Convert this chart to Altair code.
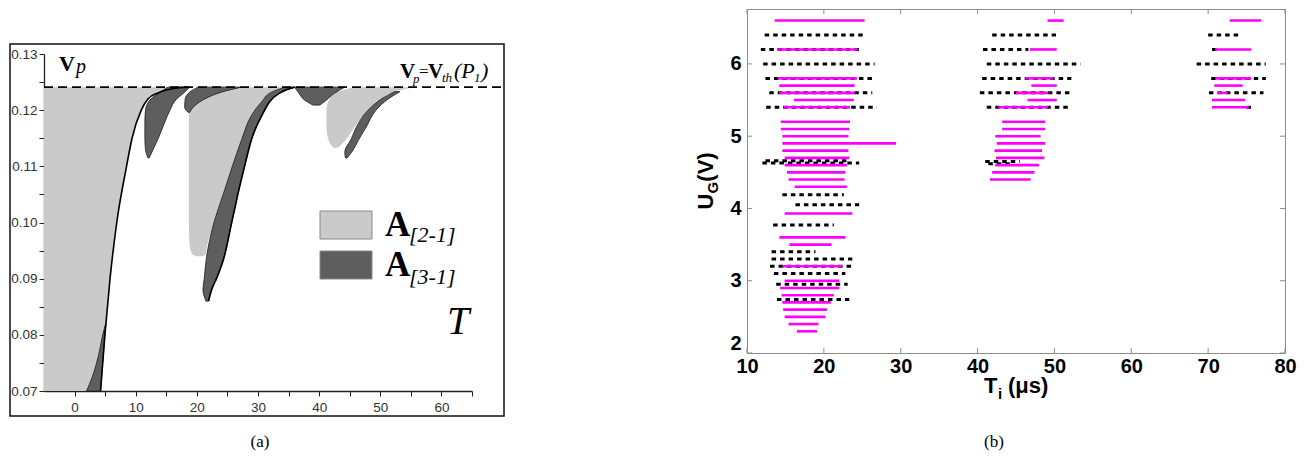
import altair as alt
import pandas as pd

# ======================= panel (a) data =======================
A21, A31 = "A[2-1]", "A[3-1]"
threshold_V = [0.1241]

xticks_a = [0, 5, 10, 15, 20, 25, 30, 35, 40, 45, 50, 55, 60, 65]
yticks_a = [0.07, 0.075, 0.08, 0.085, 0.09, 0.095, 0.10, 0.105, 0.11, 0.115, 0.12, 0.125, 0.13]

# boundary curve of the large left region
curve1_V = [0.07, 0.08, 0.09, 0.10, 0.11, 0.115, 0.12, 0.122, 0.1231, 0.1239, 0.1241]
curve1_T = [4.25, 4.96, 5.8, 6.9, 8.5, 9.4, 10.9, 12.0, 13.7, 16.4, 18.6]
region1_left = [-5, -5, -5, -5, -5, -5, -5, -5, -5, -5, -5]

light2_V = [0.0940, 0.0943, 0.096, 0.100, 0.105, 0.110, 0.115, 0.119, 0.1215, 0.1232, 0.1241]
light2_left = [19.9, 19.3, 18.8, 18.7, 18.7, 18.7, 18.7, 18.7, 19.0, 20.5, 22.9]
light2_right = [20.9, 21.4, 21.7, 22.8, 24.3, 25.8, 27.4, 28.9, 30.6, 32.2, 34.4]

light3_V = [0.1133, 0.1145, 0.117, 0.120, 0.122, 0.1233, 0.1241]
light3_left = [42.3, 41.6, 41.2, 41.2, 41.7, 43.1, 45.8]
light3_right = [43.1, 44.2, 45.8, 48.0, 50.2, 52.3, 55.6]

dark0_V = [0.07, 0.0725, 0.075, 0.0775, 0.080, 0.082]
dark0_left = [1.96, 2.9, 3.6, 4.15, 4.6, 5.08]
dark0_right = [4.25, 4.43, 4.6, 4.78, 4.96, 5.12]

dark1_V = [0.1115, 0.113, 0.115, 0.118, 0.120, 0.122, 0.123, 0.1241]
dark1_left = [12.0, 11.6, 11.5, 11.5, 11.6, 12.5, 13.7, 15.3]
dark1_right = [12.2, 12.85, 13.7, 14.8, 15.6, 16.7, 17.8, 18.8]

dark2_V = [0.1196, 0.1205, 0.122, 0.1232, 0.1241]
dark2_left = [18.6, 18.0, 18.1, 18.8, 20.2]
dark2_right = [18.8, 19.4, 21.3, 24.0, 27.3]

dark3_V = [0.086, 0.088, 0.090, 0.094, 0.100, 0.105, 0.110, 0.115, 0.119, 0.1215, 0.1232, 0.1241]
dark3_left = [21.5, 21.0, 21.2, 21.6, 22.8, 24.3, 25.8, 27.4, 28.9, 30.6, 32.2, 34.4]
dark3_right = [21.9, 22.4, 23.2, 24.5, 25.7, 26.7, 27.8, 29.0, 30.6, 31.9, 33.8, 36.0]

dark4_V = [0.1209, 0.1218, 0.1230, 0.1241]
dark4_left = [39.0, 37.6, 36.7, 36.0]
dark4_right = [40.1, 41.2, 42.5, 44.2]

dark5_V = [0.1115, 0.1125, 0.115, 0.117, 0.120, 0.122, 0.1233]
dark5_left = [44.3, 44.2, 45.3, 46.1, 48.0, 50.2, 52.3]
dark5_right = [44.6, 45.3, 46.6, 47.7, 49.3, 51.3, 53.2]

# ======================= panel (b) data =======================
xticks_b = [10, 20, 30, 40, 50, 60, 70, 80]
yticks_b = [2, 3, 4, 5, 6]

dash_U = [6.4, 6.2, 6.0, 5.8, 5.6, 5.4, 4.66, 4.63, 4.19, 4.05, 3.77, 3.4, 3.3, 3.2, 3.1, 2.95, 2.74,
          6.4, 6.2, 6.0, 5.8, 5.6, 5.4, 4.65, 4.62,
          6.4, 6.2, 6.0, 5.8, 5.6, 5.4]
dash_start = [12.3, 11.8, 12.1, 12.4, 12.9, 12.5, 12.4, 12.0, 14.6, 16.3, 13.4, 13.2, 13.2, 13.0, 13.5, 13.8, 13.9,
              41.9, 40.7, 41.2, 40.6, 40.3, 41.2, 41.0, 41.4,
              70.0, 70.5, 68.5, 70.4, 70.1, 75.0]
dash_end = [25.3, 25.0, 26.6, 26.7, 26.3, 26.9, 23.3, 24.6, 22.6, 24.6, 21.3, 18.9, 23.7, 23.7, 22.8, 23.1, 23.3,
            50.2, 46.6, 53.4, 52.2, 52.2, 52.0, 45.5, 44.5,
            74.1, 71.1, 77.5, 77.5, 77.2, 75.6]

mag_U = [6.6, 6.2, 5.8, 5.7, 5.6, 5.5, 5.4, 5.2, 5.1, 5.0, 4.9, 4.8, 4.7, 4.6, 4.5, 4.4, 4.3, 3.93, 3.6, 3.5,
         3.2, 3.0, 2.9, 2.8, 2.7, 2.6, 2.5, 2.4, 2.3,
         6.6, 6.2, 5.8, 5.7, 5.6, 5.5, 5.4, 5.2, 5.1, 5.0, 4.9, 4.8, 4.7, 4.6, 4.5, 4.4,
         6.6, 6.2, 5.8, 5.7, 5.6, 5.5, 5.4]
mag_start = [13.6, 13.9, 14.0, 14.2, 14.2, 16.1, 14.8, 14.4, 14.4, 14.6, 14.6, 14.6, 14.9, 14.9, 15.2, 15.4, 16.2, 14.9, 14.2, 15.5,
             14.6, 14.9, 14.3, 14.5, 14.6, 14.7, 14.9, 15.4, 16.5,
             49.1, 46.8, 46.2, 47.0, 45.0, 46.5, 42.7, 43.2, 43.2, 42.3, 42.5, 42.2, 42.4, 42.3, 41.9, 41.6,
             72.8, 70.9, 71.0, 70.8, 71.2, 70.5, 70.5]
mag_end = [25.3, 24.4, 24.3, 24.0, 24.0, 23.9, 23.4, 23.4, 23.3, 23.2, 29.4, 23.2, 23.3, 23.0, 22.8, 22.7, 23.0, 23.7, 22.8, 21.0,
           22.4, 22.0, 22.0, 21.3, 20.9, 20.4, 20.2, 19.3, 19.1,
           51.2, 50.3, 49.9, 50.3, 49.2, 50.3, 49.2, 48.8, 48.8, 48.2, 48.8, 48.4, 48.7, 48.0, 47.4, 46.9,
           76.9, 75.6, 75.6, 74.5, 72.5, 74.8, 75.3]

# ======================= helpers =======================
def shapes_df(items):
    rows = []
    for name, kind, vs, ls, rs in items:
        for v, l, r in zip(vs, ls, rs):
            rows.append({"shape": name, "kind": kind, "V": v, "left": l, "right": r})
    return pd.DataFrame(rows)


def txt(s, x, y, size, font="Liberation Serif", weight="normal", style="normal",
        align="left", baseline="alphabetic", angle=0, color="black"):
    return alt.Chart(pd.DataFrame({"s": [s]})).mark_text(
        align=align, baseline=baseline, font=font, fontSize=size,
        fontWeight=weight, fontStyle=style, angle=angle, color=color
    ).encode(x=alt.value(x), y=alt.value(y), text="s:N")


LIGHT = "#cacaca"
DARK = "#5e5e5e"

light_df = shapes_df([
    ("L1", A21, curve1_V, region1_left, curve1_T),
    ("L2", A21, light2_V, light2_left, light2_right),
    ("L3", A21, light3_V, light3_left, light3_right),
])
dark_df = shapes_df([
    ("D0", A31, dark0_V, dark0_left, dark0_right),
    ("D1", A31, dark1_V, dark1_left, dark1_right),
    ("D2", A31, dark2_V, dark2_left, dark2_right),
    ("D3", A31, dark3_V, dark3_left, dark3_right),
    ("D4", A31, dark4_V, dark4_left, dark4_right),
    ("D5", A31, dark5_V, dark5_left, dark5_right),
])
curves_df = pd.DataFrame(
    [{"curve": "c1", "T": t, "V": v} for t, v in zip(curve1_T, curve1_V)]
    + [{"curve": "c2", "T": t, "V": v} for t, v in zip(dark3_right, dark3_V)]
)

xscale_a = alt.Scale(domain=[-5, 65], nice=False, zero=False)
yscale_a = alt.Scale(domain=[0.07, 0.13], range=[382, 45], nice=False, zero=False)
axis_common_a = dict(grid=False, title=None, tickSize=5, tickColor="#222", tickWidth=1,
                     domainColor="#222", domainWidth=1.3, labelFont="Liberation Sans",
                     labelFontSize=13.5, labelColor="#333")
xaxis_a = alt.Axis(values=xticks_a, labelExpr="datum.value % 10 === 0 ? datum.label : ''",
                   labelPadding=4, labelFlush=False, **axis_common_a)
yaxis_a = alt.Axis(values=yticks_a, format=".2f",
                   labelExpr="abs(datum.value*100 - round(datum.value*100)) < 0.001 ? datum.label : ''",
                   labelPadding=2, **axis_common_a)

legend_a = alt.Legend(
    orient="none", legendX=281.5, legendY=195.5, title=None, padding=0,
    symbolType="M-1.3,-0.7H1.3V0.7H-1.3Z", symbolSize=1600,
    symbolStrokeColor="#8a8a8a", symbolStrokeWidth=1, symbolOpacity=1,
    labelExpr="'A'", labelFont="Liberation Serif", labelFontSize=35,
    labelFontWeight="bold", labelColor="black", labelOffset=18.5, rowPadding=1,
)
color_a = alt.Color("kind:N", scale=alt.Scale(domain=[A21, A31], range=[LIGHT, DARK]),
                    legend=legend_a)

light_layer = alt.Chart(light_df).mark_area(orient="horizontal", interpolate="monotone").encode(
    y=alt.Y("V:Q", scale=yscale_a, axis=yaxis_a),
    x=alt.X("left:Q", scale=xscale_a, axis=xaxis_a, stack=False),
    x2="right:Q",
    color=color_a,
    detail="shape:N",
)
dark_layer = alt.Chart(dark_df).mark_area(orient="horizontal", interpolate="monotone",
                                          stroke="#1a1a1a", strokeWidth=0.8).encode(
    y=alt.Y("V:Q", scale=yscale_a, axis=yaxis_a),
    x=alt.X("left:Q", scale=xscale_a, axis=xaxis_a, stack=False),
    x2="right:Q",
    color=color_a,
    detail="shape:N",
)
curve_layer = alt.Chart(curves_df).mark_line(color="black", strokeWidth=1.6, interpolate="monotone").encode(
    x=alt.X("T:Q", scale=xscale_a, axis=xaxis_a),
    y=alt.Y("V:Q", scale=yscale_a, axis=yaxis_a),
    detail="curve:N",
)
thr_layer = alt.Chart(pd.DataFrame({"V": threshold_V})).mark_rule(
    color="black", strokeWidth=1.6, strokeDash=[9, 5]).encode(
    y=alt.Y("V:Q", scale=yscale_a, axis=yaxis_a),
    x=alt.value(0), x2=alt.value(460),
)
frame_a = alt.Chart(pd.DataFrame({"a": [0]})).mark_rect(
    filled=False, stroke="#111", strokeWidth=1.5).encode(
    x=alt.value(-34), x2=alt.value(460), y=alt.value(35), y2=alt.value(407))

texts_a = [
    txt("V", 15, 62, 22, weight="bold"),
    txt("p", 32, 64, 20, style="italic"),
    txt("V", 356, 69, 21, weight="bold"),
    txt("p", 369, 74, 13, style="italic"),
    txt("=", 375, 68, 17),
    txt("V", 384, 69, 21, weight="bold"),
    txt("th", 398, 73, 13, style="italic"),
    txt("(P", 410, 69, 22, style="italic"),
    txt("1", 430, 73, 13, style="italic"),
    txt(")", 437, 69, 22, style="italic"),
    txt("T", 414, 325, 40, style="italic", align="center"),
    txt("[2-1]", 365, 233, 22, style="italic"),
    txt("[3-1]", 365, 275, 22, style="italic"),
    txt("(a)", 216, 438, 17, align="center"),
]

panel_a = alt.layer(light_layer, dark_layer, curve_layer, thr_layer, frame_a, *texts_a).properties(
    width=428, height=382, view=alt.ViewBackground(stroke="transparent"))

# ======================= panel (b) =======================
W_B, H_B = 538, 344
dash_df = pd.DataFrame({"U": dash_U, "start": dash_start, "end": dash_end})
mag_df = pd.DataFrame({"U": mag_U, "start": mag_start, "end": mag_end})
xt_df = pd.DataFrame({"t": xticks_b})
yt_df = pd.DataFrame({"u": yticks_b})

xscale_b = alt.Scale(domain=[10, 80], nice=False, zero=False)
yscale_b = alt.Scale(domain=[2, 6.76], nice=False, zero=False)
axis_common_b = dict(grid=False, title=None, domain=False, ticks=False, labelFont="Liberation Sans",
                     labelFontSize=20, labelFontWeight="bold", labelColor="black")
xaxis_b = alt.Axis(values=xticks_b, labelPadding=3, labelFlush=False, **axis_common_b)
yaxis_b = alt.Axis(values=yticks_b, labelPadding=6, labelFlush=5, **axis_common_b)

dash_layer = alt.Chart(dash_df).mark_rule(color="black", strokeWidth=3, strokeDash=[4.5, 4]).encode(
    x=alt.X("start:Q", scale=xscale_b, axis=xaxis_b), x2="end:Q",
    y=alt.Y("U:Q", scale=yscale_b, axis=yaxis_b))
mag_layer = alt.Chart(mag_df).mark_rule(color="#ff00ff", strokeWidth=2.6).encode(
    x=alt.X("start:Q", scale=xscale_b, axis=xaxis_b), x2="end:Q",
    y=alt.Y("U:Q", scale=yscale_b, axis=yaxis_b))

TICK_C = "#8c8c8c"
tick_bottom = alt.Chart(xt_df).mark_rule(color=TICK_C).encode(
    x=alt.X("t:Q", scale=xscale_b, axis=xaxis_b), y=alt.value(H_B), y2=alt.value(H_B - 5))
tick_top = alt.Chart(xt_df).mark_rule(color=TICK_C).encode(
    x=alt.X("t:Q", scale=xscale_b, axis=xaxis_b), y=alt.value(0), y2=alt.value(5))
tick_left = alt.Chart(yt_df).mark_rule(color=TICK_C).encode(
    y=alt.Y("u:Q", scale=yscale_b, axis=yaxis_b), x=alt.value(0), x2=alt.value(5))
tick_right = alt.Chart(yt_df).mark_rule(color=TICK_C).encode(
    y=alt.Y("u:Q", scale=yscale_b, axis=yaxis_b), x=alt.value(W_B), x2=alt.value(W_B - 5))

texts_b = [
    txt("U", -41, 192.5, 22, font="Liberation Sans", weight="bold", align="center", baseline="middle", angle=270),
    txt("G", -34, 178.6, 15, font="Liberation Sans", weight="bold", align="center", baseline="middle", angle=270),
    txt("(V)", -41, 158, 22, font="Liberation Sans", weight="bold", align="center", baseline="middle", angle=270),
    txt("T", 237, 384, 22, font="Liberation Sans", weight="bold"),
    txt("i", 251, 390, 15, font="Liberation Sans", weight="bold"),
    txt("(μs)", 261, 384, 22, font="Liberation Sans", weight="bold"),
    txt("(b)", 247, 438, 17, align="center"),
]

panel_b = alt.layer(dash_layer, mag_layer, tick_bottom, tick_top, tick_left, tick_right, *texts_b).properties(
    width=W_B, height=H_B, view=alt.ViewBackground(stroke="#8c8c8c", strokeWidth=1))

chart = alt.hconcat(panel_a, panel_b, spacing=275, bounds="flush").properties(
    padding=0, background="white"
).configure(font="Liberation Sans")

chart.save("out.html", embed_options={"renderer": "svg", "actions": False})
